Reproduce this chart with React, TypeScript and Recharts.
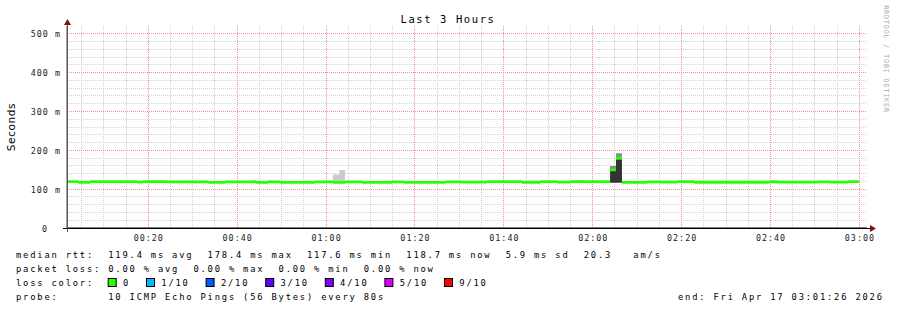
import React from "react";
import { Area, CartesianGrid, ComposedChart, XAxis, YAxis } from "recharts";

// minutes since midnight where each 80s median step starts
const medianStart = [
    1.7, 4.2, 6.9, 17.5, 18.8, 24.3, 33.5, 37.3, 44.3, 47.0, 49.7, 57.5, 61.5, 64.3, 68.1, 74.9, 77.6, 86.8,
    90.2, 96.2, 104.1, 108.2, 112.0, 114.9, 123.9, 125.23, 126.57, 132.3, 135.2, 139.0, 142.8, 159.7, 161.3,
    170.7, 173.4, 177.5,
];
// median rtt in ms
const medianRtt = [
    119.3, 117.5, 119.3, 118.0, 119.3, 118.5, 117.3, 119.0, 117.5, 119.0, 117.5, 119.0, 117.5, 119.0, 117.5,
    119.0, 117.5, 118.8, 118.3, 119.3, 117.5, 119.3, 118.3, 119.3, 150.0, 179.5, 117.5, 118.8, 118.2, 119.3,
    117.8, 119.0, 118.2, 119.0, 118.0, 119.3,
];
const dataEnd = 179.9;

// smoke (spread of the 10 pings) where it shows above the median
const smokeStart = [6.9, 21.5, 26.5, 42.9, 47.0, 61.5, 63.0, 105.3, 116.0, 123.9, 125.23, 128.0, 136.1, 159.7];
const smokeEnd = [9.4, 23.1, 33.5, 44.3, 48.1, 63.0, 64.25, 107.9, 117.6, 125.23, 126.57, 129.3, 137.4, 161.7];
const smokeLow = [117.5, 117.5, 117.5, 117.5, 117.5, 117.5, 117.5, 117.5, 117.5, 116.6, 116.6, 117.5, 117.5, 117.5];
const smokeDense = [117.5, 117.5, 117.5, 117.5, 117.5, 117.5, 117.5, 117.5, 117.5, 154.0, 184.0, 117.5, 117.5, 117.5];
const smokeMid = [117.5, 117.5, 117.5, 117.5, 117.5, 117.5, 117.5, 117.5, 117.5, 159.5, 192.3, 117.5, 117.5, 117.5];
const smokeTop = [122.0, 122.0, 121.5, 123.0, 123.0, 138.0, 149.0, 122.0, 123.5, 159.5, 192.3, 121.5, 121.5, 123.5];

const timeTicks = [20, 40, 60, 80, 100, 120, 140, 160, 180];
const rttTicks = [0, 100, 200, 300, 400, 500];
const minorTime = Array.from({ length: 36 }, (_, i) => (i + 1) * 5).filter((v) => v % 20 !== 0);
const minorRtt = Array.from({ length: 25 }, (_, i) => (i + 1) * 20).filter((v) => v % 100 !== 0);

const summaryLines = [
    "median rtt:  119.4 ms avg  178.4 ms max  117.6 ms min  118.7 ms now  5.9 ms sd  20.3   am/s",
    "packet loss: 0.00 % avg  0.00 % max  0.00 % min  0.00 % now",
    "loss color:",
    "probe:       10 ICMP Echo Pings (56 Bytes) every 80s",
];
const endText = "end: Fri Apr 17 03:01:26 2026";
const lossLabels = ["0", "1/10", "2/10", "3/10", "4/10", "5/10", "9/10"];
const lossColors = ["#26ff00", "#00b8ff", "#0059ff", "#5e00ff", "#7e00ff", "#dd00ff", "#ff0000"];

const EPS = 1e-6;
const cuts = Array.from(new Set([...medianStart, ...smokeStart, ...smokeEnd, dataEnd])).sort((a, b) => a - b);

const rows = cuts.map((t) => {
    let m = medianRtt[0];
    medianStart.forEach((s, i) => {
        if (s <= t + EPS) m = medianRtt[i];
    });
    const k = smokeStart.findIndex((s, i) => s <= t + EPS && t < smokeEnd[i] - EPS);
    const row = { t, medBase: m - 3.6, medBand: 7.2, s0: 0, s1: 0, s2: 0, s3: 0 };
    if (k >= 0 && t < dataEnd - EPS) {
        row.s0 = smokeLow[k];
        row.s1 = smokeDense[k] - smokeLow[k];
        row.s2 = smokeMid[k] - smokeDense[k];
        row.s3 = smokeTop[k] - smokeMid[k];
    }
    return row;
});

const mono = "'DejaVu Sans Mono', monospace";

const fmtTime = (v: number) => {
    const r = Math.round(v);
    const h = Math.floor(r / 60);
    const m = r % 60;
    return `${String(h).padStart(2, "0")}:${String(m).padStart(2, "0")}`;
};

const TimeTick = (props: any) => {
    const { x, y, payload } = props;
    return (
        <text x={x + 0.5} y={y + 13} textAnchor="middle" fontFamily={mono} fontSize={8.4} letterSpacing={1} fill="#222">
            {fmtTime(payload.value)}
        </text>
    );
};

const RttTick = (props: any) => {
    const { x, y, payload } = props;
    const v = payload.value;
    return (
        <text
            x={v === 0 ? x - 19 : x - 6}
            y={y + 3.5}
            textAnchor="end"
            fontFamily={mono}
            fontSize={8.4}
            letterSpacing={1}
            fill="#222"
            style={{ whiteSpace: "pre" }}
        >
            {v === 0 ? "0" : `${v} m`}
        </text>
    );
};

function LossLegend() {
    const items: JSX.Element[] = [];
    let x = 107.7;
    lossLabels.forEach((lab, i) => {
        items.push(
            <g key={lab}>
                <rect x={x + 0.5} y={278.5} width={8} height={8} fill={lossColors[i]} stroke="#000" strokeWidth={1} />
                <text x={x + 15.3} y={285.5} fontFamily={mono} fontSize={8.8} letterSpacing={1.8} fill="#000">
                    {lab}
                </text>
            </g>
        );
        x += 17 + 7.1 * (lab.length + 2);
    });
    return <g>{items}</g>;
}

export default function App() {
    return (
        <div style={{ position: "absolute", left: 0, top: 0, width: 897, height: 310, background: "#fff" }}>
            <ComposedChart width={897} height={310} data={rows} margin={{ top: 26, right: 30, bottom: 62, left: 0 }}>
                <CartesianGrid
                    horizontalValues={minorRtt}
                    verticalValues={minorTime}
                    stroke="#d2d2d2"
                    strokeDasharray="1 1"
                    shapeRendering="crispEdges"
                />
                <CartesianGrid
                    horizontalValues={rttTicks.filter((v) => v > 0)}
                    verticalValues={timeTicks}
                    stroke="#f29090"
                    strokeDasharray="1 1"
                    shapeRendering="crispEdges"
                />
                <XAxis
                    dataKey="t"
                    type="number"
                    domain={[1.705, 181.705]}
                    ticks={timeTicks}
                    allowDataOverflow
                    height={20}
                    tickSize={0}
                    tickMargin={0}
                    tickLine={false}
                    axisLine={{ stroke: "#000" }}
                    tick={<TimeTick />}
                    interval={0}
                />
                <YAxis
                    type="number"
                    domain={[0, 520]}
                    ticks={rttTicks}
                    allowDataOverflow
                    width={67}
                    tickSize={0}
                    tickMargin={0}
                    tickLine={false}
                    axisLine={{ stroke: "#555" }}
                    tick={<RttTick />}
                    interval={0}
                />
                <Area dataKey="s0" stackId="smoke" type="stepAfter" fill="none" stroke="none" isAnimationActive={false} />
                <Area dataKey="s1" stackId="smoke" type="stepAfter" fill="#333333" fillOpacity={1} stroke="none" isAnimationActive={false} />
                <Area dataKey="s2" stackId="smoke" type="stepAfter" fill="#8a8a8a" fillOpacity={1} stroke="none" isAnimationActive={false} />
                <Area dataKey="s3" stackId="smoke" type="stepAfter" fill="#cacaca" fillOpacity={1} stroke="none" isAnimationActive={false} />
                <Area dataKey="medBase" stackId="med" type="stepAfter" fill="none" stroke="none" isAnimationActive={false} />
                <Area dataKey="medBand" stackId="med" type="stepAfter" fill="#26ff00" fillOpacity={1} stroke="none" isAnimationActive={false} />
            </ComposedChart>
            <svg width={897} height={310} style={{ position: "absolute", left: 0, top: 0, pointerEvents: "none" }}>
                <text x={448} y={23} textAnchor="middle" fontFamily={mono} fontSize={10.5} letterSpacing={1.6} fill="#000">
                    Last 3 Hours
                </text>
                <text
                    x={15}
                    y={127}
                    transform="rotate(-90 15 127)"
                    textAnchor="middle"
                    fontFamily="'DejaVu Sans', sans-serif"
                    fontSize={10.5}
                    letterSpacing={0.6}
                    fill="#000"
                >
                    Seconds
                </text>
                <text
                    x={884}
                    y={59}
                    transform="rotate(90 884 59)"
                    textAnchor="middle"
                    fontFamily={mono}
                    fontSize={6.8}
                    letterSpacing={0.8}
                    fill="#a8a8a8"
                >
                    RRDTOOL / TOBI OETIKER
                </text>
                {/* axis extensions and arrows */}
                <line x1={63} y1={228.5} x2={870} y2={228.5} stroke="#000" />
                <line x1={67.5} y1={232} x2={67.5} y2={24} stroke="#555" />
                <polygon points="870,225 876,228.5 870,232" fill="#7f1010" />
                <polygon points="64,25 67.5,19 71,25" fill="#7f1010" />
                {summaryLines.map((s, i) => (
                    <text
                        key={i}
                        x={16}
                        y={257.5 + i * 14}
                        fontFamily={mono}
                        fontSize={8.8}
                        letterSpacing={1.8}
                        fill="#000"
                        style={{ whiteSpace: "pre" }}
                    >
                        {s}
                    </text>
                ))}
                <text x={678} y={299.5} fontFamily={mono} fontSize={8.8} letterSpacing={1.8} fill="#000" style={{ whiteSpace: "pre" }}>
                    {endText}
                </text>
                <LossLegend />
            </svg>
        </div>
    );
}
